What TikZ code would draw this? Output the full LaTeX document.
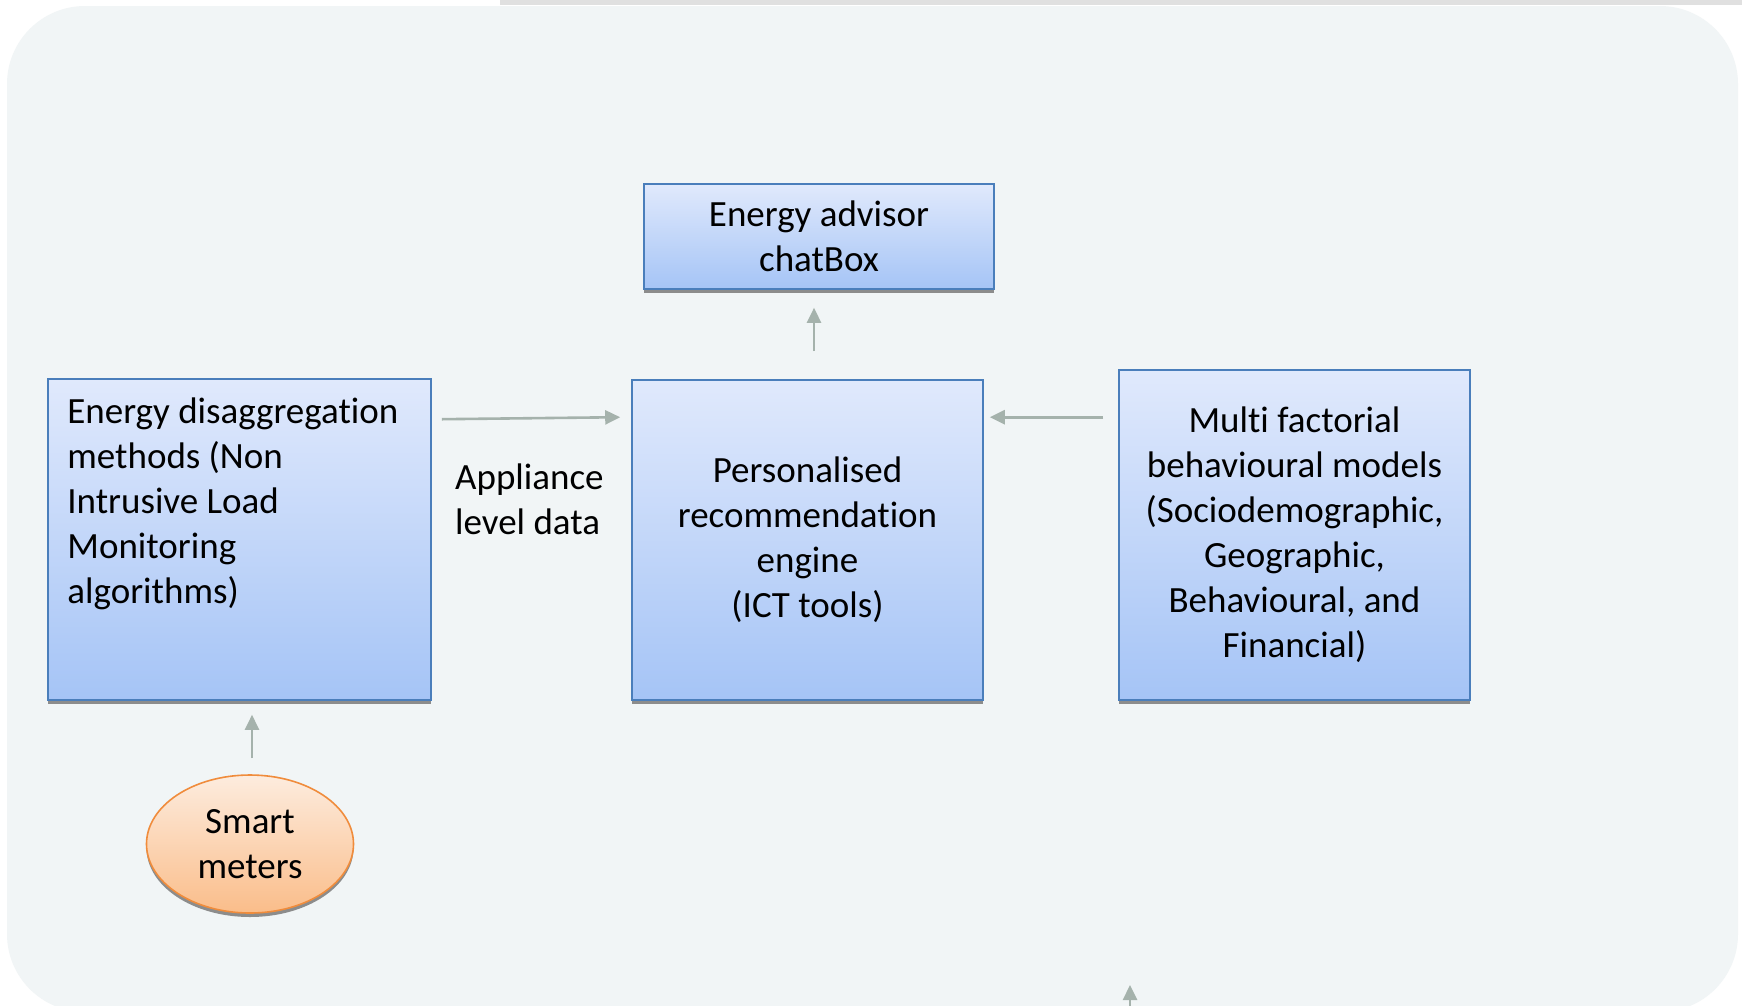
\documentclass[tikz,border=0pt]{standalone}
\usepackage{fontspec}
\setmainfont{Carlito}[Ligatures=NoCommon]
\usetikzlibrary{arrows.meta,shadows,shapes.geometric}

\definecolor{pagebg}{RGB}{241,245,246}
\definecolor{boxtop}{RGB}{224,233,252}
\definecolor{boxbot}{RGB}{165,196,246}
\definecolor{boxline}{RGB}{74,126,187}
\definecolor{ovaltop}{RGB}{253,236,222}
\definecolor{ovalbot}{RGB}{250,189,138}
\definecolor{ovalline}{RGB}{240,140,60}
\definecolor{arrowgrey}{RGB}{165,178,172}

\tikzset{
  bluebox/.style={draw=boxline, line width=1.6pt, top color=boxtop, bottom color=boxbot,
    drop shadow={shadow xshift=0pt, shadow yshift=-4pt, fill=black!45, opacity=1},
    inner sep=0pt, font=\fontsize{37}{45}\selectfont},
  oval/.style={ellipse, draw=ovalline, line width=1.6pt, top color=ovaltop, bottom color=ovalbot,
    drop shadow={shadow xshift=0pt, shadow yshift=-4pt, fill=black!45, opacity=1},
    inner sep=0pt, font=\fontsize{37}{45}\selectfont, align=center},
  flow/.style={draw=arrowgrey, line width=2.6pt, -{Triangle[length=15pt,width=14pt]}}
}

\begin{document}
\begin{tikzpicture}[x=1pt,y=-1pt]
  \useasboundingbox (0,0) rectangle (1742,1005);
  % backdrop
  \fill[white] (0,0) rectangle (1742,1005);
  \fill[black!12] (500,0) rectangle (1742,5);
  \fill[pagebg, rounded corners=78pt] (7,6) rectangle (1738,1012);

  % boxes
  \node[bluebox, minimum width=350pt, minimum height=105pt, align=center] (chat) at (819,236.5)
    {Energy advisor\\chatBox};
  \node[bluebox, minimum width=383pt, minimum height=321pt] (nilm) at (239.5,539.5) {};
  \node[anchor=north west, inner sep=0pt, align=left, font=\fontsize{37}{45}\selectfont]
    (nilmtext) at ([xshift=20pt,yshift=-19pt]nilm.north west)
    {Energy disaggregation\\methods (Non\\Intrusive Load\\Monitoring\\algorithms)};
  \node[bluebox, minimum width=351pt, minimum height=320pt, align=center] (engine) at (807.5,540)
    {Personalised\\recommendation\\engine\\(ICT tools)};
  \node[bluebox, minimum width=351pt, minimum height=330pt, align=center] (behav) at (1294.5,535)
    {Multi factorial\\behavioural models\\(Sociodemographic,\\Geographic,\\Behavioural, and\\Financial)};
  \node[oval, minimum width=207pt, minimum height=138pt] (meters) at (250,844) {Smart\\meters};

  % label
  \node[anchor=north west, inner sep=0pt, align=left, font=\fontsize{37}{45}\selectfont]
    (applabel) at (455,464) {Appliance\\level data};

  % connectors
  \draw[flow] ([xshift=10pt,yshift=-41pt]nilm.north east) -- ([xshift=-11pt,yshift=-38pt]engine.north west);
  \draw[flow] ([xshift=-15pt,yshift=-48pt]behav.north west) -- ([xshift=6pt,yshift=-38pt]engine.north east);
  \draw[flow] ([xshift=6.5pt,yshift=28pt]engine.north) -- ([xshift=-5pt,yshift=-18pt]chat.south);
  \draw[flow] ([xshift=2pt,yshift=16pt]meters.north) -- ([xshift=12.5pt,yshift=-14pt]nilm.south);
  \coordinate (offpage) at (1130,1012);
  \coordinate (offtip) at (1130,985);
  \draw[flow] (offpage) -- (offtip);
\end{tikzpicture}
\end{document}
